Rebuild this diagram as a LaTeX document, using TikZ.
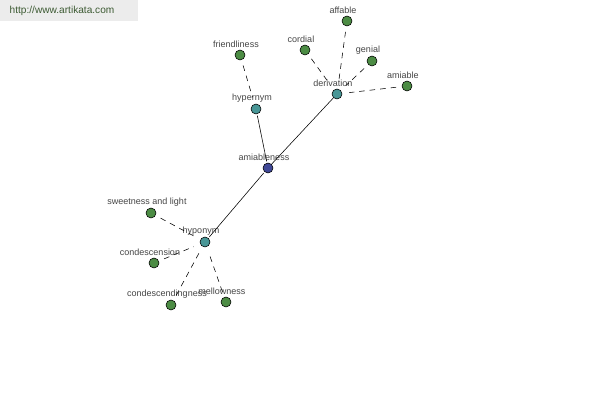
\documentclass[tikz,border=0pt]{standalone}
\usepackage{fontspec}
\setmainfont{Liberation Sans}
\usepackage{xcolor}
\usepackage{tikz}
\definecolor{leafgreen}{RGB}{76,140,68}
\definecolor{hubteal}{RGB}{72,150,150}
\definecolor{rootblue}{RGB}{64,72,150}
\definecolor{labelgray}{RGB}{70,70,70}
\definecolor{boxgray}{RGB}{236,236,236}
\definecolor{urlgreen}{RGB}{60,90,50}

\begin{document}
\begin{tikzpicture}[x=0.025cm,y=-0.025cm,
dot/.style={circle,draw=black,line width=0.4pt,minimum size=0.25cm,inner sep=0pt},
leaf/.style={dot,fill=leafgreen},
hub/.style={dot,fill=hubteal},
root/.style={dot,fill=rootblue},
every label/.style={font=\fontsize{6.4}{7}\selectfont,text=labelgray,inner sep=1pt,xshift=-0.1cm},
link/.style={line width=0.4pt,shorten >=1pt,shorten <=1pt},
weak/.style={line width=0.4pt,dash pattern=on 4pt off 3.5pt,shorten >=5pt,shorten <=4pt}]
\useasboundingbox[fill=white](0,0)rectangle(600,400);
\fill[boxgray](0,0)rectangle(138,21);
\node[font=\fontsize{7.2}{8}\selectfont,text=urlgreen](url)at(62,11){http://www.artikata.com};
% centre and hubs
\node[root,label=above:amiableness](amiableness)at(268,168){};
\node[hub,label=above:hypernym](hypernym)at(256,109){};
\node[hub,label=above:derivation](derivation)at(337,94){};
\node[hub,label=above:hyponym](hyponym)at(205,242){};
% leaves
\node[leaf,label=above:friendliness](friendliness)at(240,55){};
\node[leaf,label=above:cordial](cordial)at(305,50){};
\node[leaf,label=above:affable](affable)at(347,21){};
\node[leaf,label=above:genial](genial)at(372,61){};
\node[leaf,label=above:amiable](amiable)at(407,86){};
\node[leaf,label=above:sweetness and light](sweetness)at(151,213){};
\node[leaf,label=above:condescension](condescension)at(154,263){};
\node[leaf,label=above:condescendingness](condescendingness)at(171,305){};
\node[leaf,label=above:mellowness](mellowness)at(226,302){};
\draw[link](hypernym)--(amiableness);
\draw[link](derivation)--(amiableness)--(hyponym);
\foreach \n in {friendliness}
  \draw[weak](\n)--(hypernym);
\foreach \n in {cordial,affable,genial,amiable}
  \draw[weak](\n)--(derivation);
\foreach \n in {sweetness,condescension,condescendingness,mellowness}
  \draw[weak](\n)--(hyponym);
\end{tikzpicture}
\end{document}
